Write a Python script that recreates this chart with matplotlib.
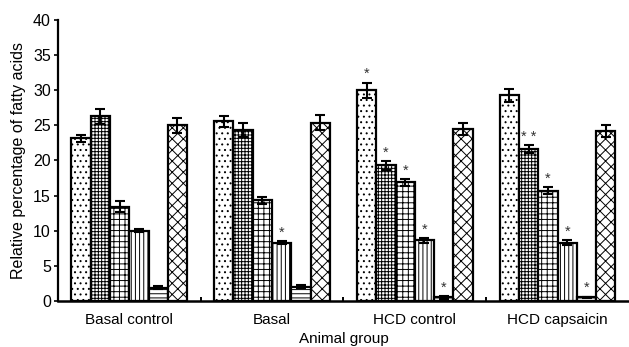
import matplotlib
matplotlib.use("Agg")
import matplotlib.pyplot as plt
import numpy as np

plt.rcParams['font.family'] = ['Liberation Sans', 'DejaVu Sans']
plt.rcParams['hatch.linewidth'] = 0.7

groups = ['Basal control', 'Basal', 'HCD control', 'HCD capsaicin']

# one list per fatty acid series, values across the four groups
fa1 = [23.2, 25.6, 30.0, 29.3]
fa2 = [26.3, 24.4, 19.3, 21.6]
fa3 = [13.4, 14.3, 16.9, 15.7]
fa4 = [10.0, 8.3, 8.6, 8.3]
fa5 = [1.9, 2.0, 0.5, 0.5]
fa6 = [25.0, 25.4, 24.5, 24.2]

err1 = [0.5, 0.8, 1.1, 0.9]
err2 = [1.1, 1.0, 0.6, 0.6]
err3 = [0.8, 0.5, 0.5, 0.5]
err4 = [0.2, 0.2, 0.3, 0.3]
err5 = [0.2, 0.2, 0.2, 0.1]
err6 = [1.1, 1.1, 0.9, 0.8]

# significance markers per series and group
sig1 = ['', '', '*', '']
sig2 = ['', '', '*', '* *']
sig3 = ['', '', '*', '*']
sig4 = ['', '*', '*', '*']
sig5 = ['', '', '*', '*']
sig6 = ['', '', '', '']

series = [fa1, fa2, fa3, fa4, fa5, fa6]
errors = [err1, err2, err3, err4, err5, err6]
sigs = [sig1, sig2, sig3, sig4, sig5, sig6]
hatches = ['...', '+++++', '+++', '||||', '----', 'xxx']

fig = plt.figure(figsize=(6.29, 3.47), dpi=100)
ax = fig.add_axes([0.092, 0.133, 0.908, 0.809])

centers = np.arange(len(groups)) + 0.5
width = 0.135
for i, (vals, errs, sg, h) in enumerate(zip(series, errors, sigs, hatches)):
    x = centers + (i - 2.5) * width
    ax.bar(x, vals, width, color='white', edgecolor='black', linewidth=1.6,
           hatch=h, zorder=2)
    ax.errorbar(x, vals, yerr=errs, fmt='none', ecolor='black',
                elinewidth=1.5, capsize=3.5, capthick=1.5, zorder=3)
    for xi, v, e, s in zip(x, vals, errs, sg):
        if s:
            ax.text(xi, v + e + 0.2, s, ha='center', va='bottom',
                    fontsize=10.5, color='#333333')

ax.set_xlim(0, 4)
ax.set_ylim(0, 40)
ax.set_yticks(range(0, 41, 5))
ax.set_xticks(centers)
ax.set_xticklabels(groups, fontsize=11)
ax.set_xticks([1, 2, 3], minor=True)
ax.tick_params(axis='x', which='major', length=0, pad=9)
ax.tick_params(axis='x', which='minor', direction='in', length=3, width=1.4)
ax.tick_params(axis='y', labelsize=11.5, length=3, width=1.2, pad=2)
ax.set_xlabel('Animal group', fontsize=11, labelpad=3)
ax.set_ylabel('Relative percentage of fatty acids', fontsize=11.5, labelpad=5)

for side in ('top', 'right'):
    ax.spines[side].set_visible(False)
ax.spines['left'].set_linewidth(1.6)
ax.spines['bottom'].set_linewidth(1.8)

fig.savefig('out.png', dpi=100)
